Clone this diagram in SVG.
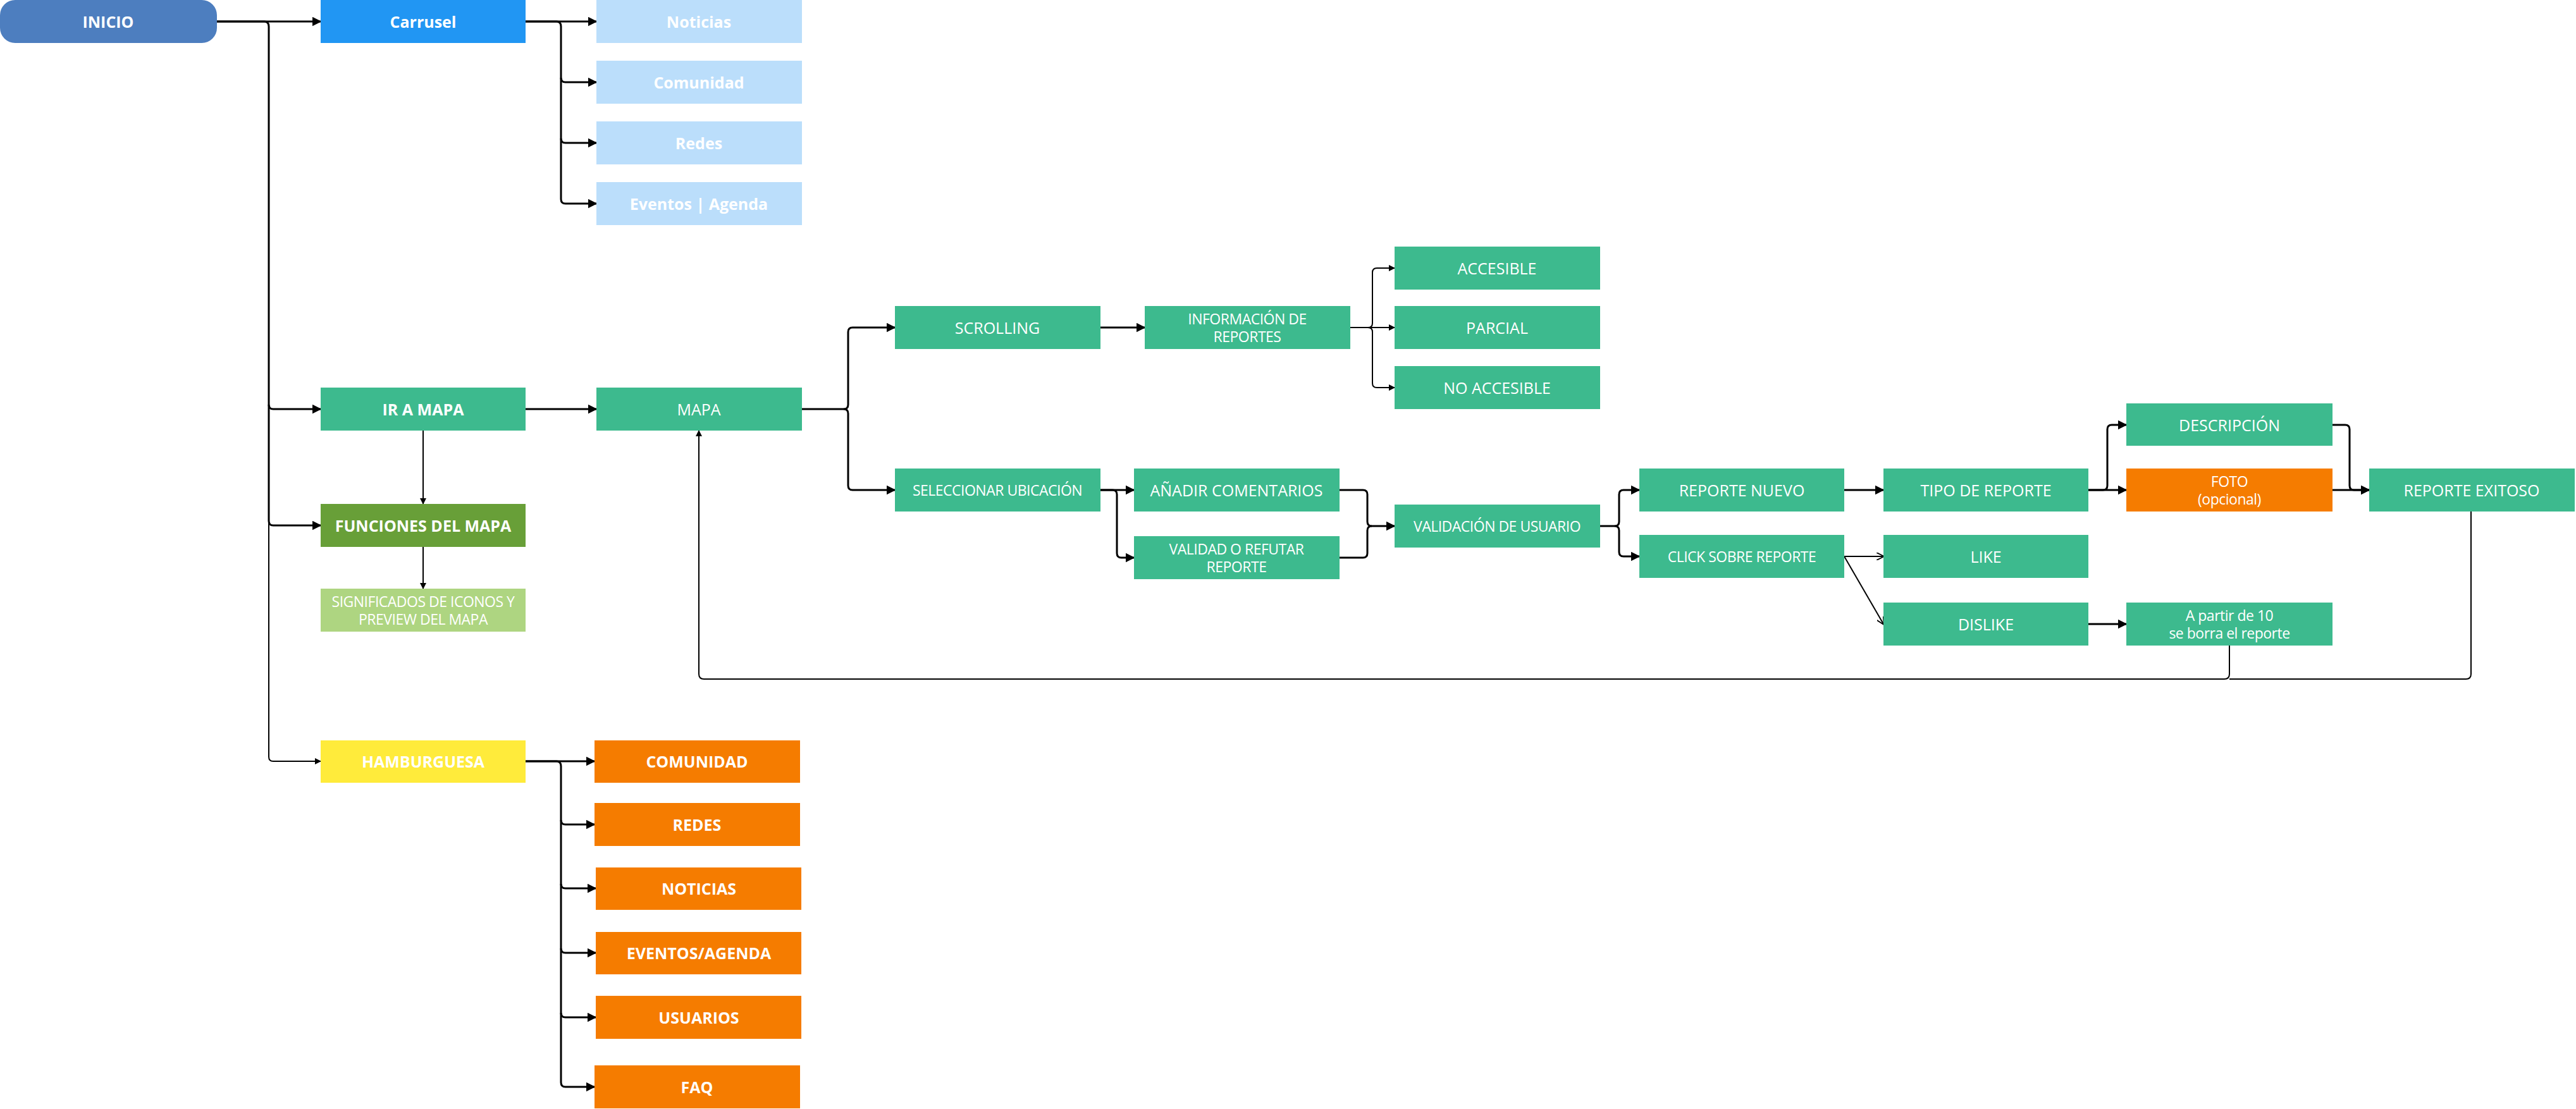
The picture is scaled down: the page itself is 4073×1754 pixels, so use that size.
<svg xmlns="http://www.w3.org/2000/svg" width="4073" height="1754" viewBox="0 0 4073 1754">
<style>
text{font-family:"Open Sans","Noto Sans","Liberation Sans",sans-serif;font-size:25px;fill:#fff;text-anchor:middle;dominant-baseline:central}
.b{font-weight:bold}
.s{font-size:23px;letter-spacing:-0.5px}
.g{fill:#3DBA8E}
.c{fill:none;stroke:#000;stroke-width:3;stroke-linejoin:round}
.t{stroke-width:2}
</style>
<defs>
<marker id="a" viewBox="0 0 10 10" refX="9" refY="5" markerWidth="5" markerHeight="5" orient="auto"><path d="M0,0L10,5L0,10z"/></marker>
<marker id="o" viewBox="0 0 10 10" refX="9" refY="5" markerWidth="6" markerHeight="6" orient="auto"><path d="M0,0L10,5L0,10" fill="none" stroke="#000" stroke-width="1.5"/></marker>
</defs>
<rect width="4073" height="1754" fill="#fff"/>
<g id="connectors">
<path class="c" marker-end="url(#a)" d="M343,34H507"/>
<path class="c" marker-end="url(#a)" d="M343,34H418Q425,34 425,42V640Q425,647 432,647H507"/>
<path class="c" marker-end="url(#a)" d="M425,640V824Q425,831 432,831H507"/>
<path class="c t" marker-end="url(#a)" d="M425,824V1197Q425,1204 432,1204H507"/>
<path class="c" marker-end="url(#a)" d="M831,34H943"/>
<path class="c" marker-end="url(#a)" d="M831,34H880Q887,34 887,42V123Q887,130 894,130H943"/>
<path class="c" marker-end="url(#a)" d="M887,123V219Q887,226 894,226H943"/>
<path class="c" marker-end="url(#a)" d="M887,219V315Q887,322 894,322H943"/>
<path class="c" marker-end="url(#a)" d="M831,647H943"/>
<path class="c t" marker-end="url(#a)" d="M669,681V797"/>
<path class="c t" marker-end="url(#a)" d="M669,865V931"/>
<path class="c" marker-end="url(#a)" d="M831,1204H940"/>
<path class="c" marker-end="url(#a)" d="M831,1204H880Q887,1204 887,1212V1297Q887,1304 894,1304H940"/>
<path class="c" marker-end="url(#a)" d="M887,1297V1398Q887,1405 894,1405H942"/>
<path class="c" marker-end="url(#a)" d="M887,1398V1500Q887,1507 894,1507H942"/>
<path class="c" marker-end="url(#a)" d="M887,1500V1602Q887,1609 894,1609H942"/>
<path class="c" marker-end="url(#a)" d="M887,1602V1712Q887,1719 894,1719H940"/>
<path class="c" marker-end="url(#a)" d="M1267,647H1334Q1341,647 1341,640V525Q1341,518 1348,518H1415"/>
<path class="c" marker-end="url(#a)" d="M1334,647Q1341,647 1341,654V768Q1341,775 1348,775H1415"/>
<path class="c" marker-end="url(#a)" d="M1740,518H1810"/>
<path class="c t" marker-end="url(#a)" d="M2135,518H2205"/>
<path class="c t" marker-end="url(#a)" d="M2135,518H2163Q2170,518 2170,511V431Q2170,424 2177,424H2205"/>
<path class="c t" marker-end="url(#a)" d="M2163,518Q2170,518 2170,525V606Q2170,613 2177,613H2205"/>
<path class="c" marker-end="url(#a)" d="M1740,775H1793"/>
<path class="c" marker-end="url(#a)" d="M1740,775H1759Q1766,775 1766,782V875Q1766,882 1773,882H1793"/>
<path class="c" marker-end="url(#a)" d="M2118,775H2155Q2162,775 2162,782V825Q2162,832 2169,832H2205"/>
<path class="c" d="M2118,882H2155Q2162,882 2162,875V839Q2162,832 2169,832"/>
<path class="c" marker-end="url(#a)" d="M2530,832H2553Q2560,832 2560,825V782Q2560,775 2567,775H2592"/>
<path class="c" marker-end="url(#a)" d="M2553,832Q2560,832 2560,839V873Q2560,880 2567,880H2592"/>
<path class="c" marker-end="url(#a)" d="M2916,775H2978"/>
<path class="c t" marker-end="url(#o)" d="M2916,880H2978"/>
<path class="c t" marker-end="url(#o)" d="M2916,880L2978,987"/>
<path class="c" marker-end="url(#a)" d="M3302,775H3362"/>
<path class="c" marker-end="url(#a)" d="M3302,775H3325Q3332,775 3332,768V679Q3332,672 3339,672H3362"/>
<path class="c" marker-end="url(#a)" d="M3688,672H3708Q3715,672 3715,679V768Q3715,775 3722,775H3746"/>
<path class="c" marker-end="url(#a)" d="M3688,775H3746"/>
<path class="c" marker-end="url(#a)" d="M3302,987H3362"/>
<path class="c t" d="M3907,809V1066Q3907,1074 3899,1074H3525"/>
<path class="c t" marker-end="url(#a)" d="M3525,1021V1066Q3525,1074 3517,1074H1113Q1105,1074 1105,1066V681"/>
</g>
<g id="inicio"><rect x="0" y="0" width="343" height="68" rx="24" fill="#4D7EBF"/><text class="b" x="171" y="34">INICIO</text></g>
<g id="carrusel"><rect x="507" y="0" width="324" height="68" fill="#2196F3"/><text class="b" x="669" y="34">Carrusel</text></g>
<g id="noticias1"><rect x="943" y="0" width="325" height="68" fill="#BBDEFB"/><text class="b" x="1105" y="34">Noticias</text></g>
<g id="comunidad1"><rect x="943" y="96" width="325" height="68" fill="#BBDEFB"/><text class="b" x="1105" y="130">Comunidad</text></g>
<g id="redes1"><rect x="943" y="192" width="325" height="68" fill="#BBDEFB"/><text class="b" x="1105" y="226">Redes</text></g>
<g id="eventos1"><rect x="943" y="288" width="325" height="68" fill="#BBDEFB"/><text class="b" x="1105" y="322">Eventos | Agenda</text></g>
<g id="irmapa"><rect class="g" x="507" y="613" width="324" height="68"/><text class="b" x="669" y="647">IR A MAPA</text></g>
<g id="mapa"><rect class="g" x="943" y="613" width="325" height="68"/><text x="1105" y="647">MAPA</text></g>
<g id="funciones"><rect x="507" y="797" width="324" height="68" fill="#689F38"/><text class="b" x="669" y="831">FUNCIONES DEL MAPA</text></g>
<g id="significados"><rect x="507" y="931" width="324" height="68" fill="#AED581"/><text class="s" x="669" y="951">SIGNIFICADOS DE ICONOS Y</text><text class="s" x="669" y="979">PREVIEW DEL MAPA</text></g>
<g id="hamburguesa"><rect x="507" y="1171" width="324" height="67" fill="#FFEB3B"/><text class="b" x="669" y="1204">HAMBURGUESA</text></g>
<g id="comunidad2"><rect x="940" y="1171" width="325" height="67" fill="#F57C00"/><text class="b" x="1102" y="1204">COMUNIDAD</text></g>
<g id="redes2"><rect x="940" y="1270" width="325" height="68" fill="#F57C00"/><text class="b" x="1102" y="1304">REDES</text></g>
<g id="noticias2"><rect x="942" y="1372" width="325" height="67" fill="#F57C00"/><text class="b" x="1105" y="1405">NOTICIAS</text></g>
<g id="eventos2"><rect x="942" y="1474" width="325" height="67" fill="#F57C00"/><text class="b" x="1105" y="1507">EVENTOS/AGENDA</text></g>
<g id="usuarios"><rect x="942" y="1575" width="325" height="68" fill="#F57C00"/><text class="b" x="1105" y="1609">USUARIOS</text></g>
<g id="faq"><rect x="940" y="1685" width="325" height="68" fill="#F57C00"/><text class="b" x="1102" y="1719">FAQ</text></g>
<g id="scrolling"><rect class="g" x="1415" y="484" width="325" height="68"/><text x="1577" y="518">SCROLLING</text></g>
<g id="info"><rect class="g" x="1810" y="484" width="325" height="68"/><text class="s" x="1972" y="504">INFORMACIÓN DE</text><text class="s" x="1972" y="532">REPORTES</text></g>
<g id="accesible"><rect class="g" x="2205" y="390" width="325" height="68"/><text x="2367" y="424">ACCESIBLE</text></g>
<g id="parcial"><rect class="g" x="2205" y="484" width="325" height="68"/><text x="2367" y="518">PARCIAL</text></g>
<g id="noaccesible"><rect class="g" x="2205" y="579" width="325" height="68"/><text x="2367" y="613">NO ACCESIBLE</text></g>
<g id="seleccionar"><rect class="g" x="1415" y="741" width="325" height="68"/><text class="s" x="1577" y="775">SELECCIONAR UBICACIÓN</text></g>
<g id="anadir"><rect class="g" x="1793" y="741" width="325" height="68"/><text x="1955" y="775">AÑADIR COMENTARIOS</text></g>
<g id="validad"><rect class="g" x="1793" y="848" width="325" height="68"/><text class="s" x="1955" y="868">VALIDAD O REFUTAR</text><text class="s" x="1955" y="896">REPORTE</text></g>
<g id="validacion"><rect class="g" x="2205" y="798" width="325" height="68"/><text class="s" x="2367" y="832">VALIDACIÓN DE USUARIO</text></g>
<g id="nuevo"><rect class="g" x="2592" y="741" width="324" height="68"/><text x="2754" y="775">REPORTE NUEVO</text></g>
<g id="click"><rect class="g" x="2592" y="846" width="324" height="68"/><text class="s" x="2754" y="880">CLICK SOBRE REPORTE</text></g>
<g id="tipo"><rect class="g" x="2978" y="741" width="324" height="68"/><text x="3140" y="775">TIPO DE REPORTE</text></g>
<g id="like"><rect class="g" x="2978" y="846" width="324" height="68"/><text x="3140" y="880">LIKE</text></g>
<g id="dislike"><rect class="g" x="2978" y="953" width="324" height="68"/><text x="3140" y="987">DISLIKE</text></g>
<g id="descripcion"><rect class="g" x="3362" y="638" width="326" height="67"/><text x="3525" y="672">DESCRIPCIÓN</text></g>
<g id="foto"><rect x="3362" y="741" width="326" height="68" fill="#F57C00"/><text class="s" x="3525" y="761">FOTO</text><text class="s" x="3525" y="789">(opcional)</text></g>
<g id="apartir"><rect class="g" x="3362" y="953" width="326" height="68"/><text class="s" x="3525" y="973">A partir de 10</text><text class="s" x="3525" y="1001">se borra el reporte</text></g>
<g id="exitoso"><rect class="g" x="3746" y="741" width="325" height="68"/><text x="3908" y="775">REPORTE EXITOSO</text></g>
</svg>
